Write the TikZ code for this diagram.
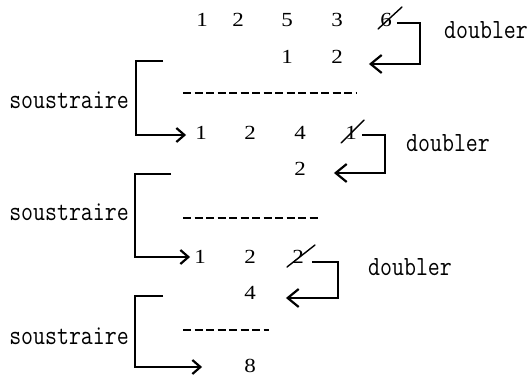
\documentclass[tikz,border=0pt]{standalone}
\usepackage{fontspec}
\newfontfamily\digitface{Liberation Serif}
\usetikzlibrary{arrows.meta}
% horizontally stretched digits and condensed typewriter words
\newcommand\dg[1]{\scalebox{1.15}[1]{#1}}
\newcommand\typed[1]{\scalebox{0.835}[1]{#1}}
\begin{document}
\begin{tikzpicture}[x=1pt,y=-1pt,
  num/.style={inner sep=0pt, font=\digitface\fontsize{20}{20}\selectfont},
  word/.style={inner sep=0pt, font=\ttfamily\fontsize{27.8}{30}\selectfont},
  link/.style={line width=2.2pt, -{Straight Barb[length=11pt,width=18pt]}},
  bracket/.style={line width=2.2pt, -{Straight Barb[length=8pt,width=14pt]}},
  rule/.style={line width=2pt, dash pattern=on 8pt off 3.5pt},
  strike/.style={line width=1.4pt, line cap=round},
]
\useasboundingbox (0,0) rectangle (532,378);

% first number and its doubled last digit
\node[num] (a1) at (202,20) {\dg{1}};
\node[num] (a2) at (238,20) {\dg{2}};
\node[num] (a3) at (287,20) {\dg{5}};
\node[num] (a4) at (337,20) {\dg{3}};
\node[num] (a5) at (386,20) {\dg{6}};
\node[num] (b1) at (287,57) {\dg{1}};
\node[num] (b2) at (337,57) {\dg{2}};

% second step
\node[num] (c1) at (201,133) {\dg{1}};
\node[num] (c2) at (250,133) {\dg{2}};
\node[num] (c3) at (300,133) {\dg{4}};
\node[num] (c4) at (351,133) {\dg{1}};
\node[num] (d1) at (300,169) {\dg{2}};

% third step
\node[num] (e1) at (200,257) {\dg{1}};
\node[num] (e2) at (250,257) {\dg{2}};
\node[num] (e3) at (298,257) {\dg{2}};
\node[num] (f1) at (250,293) {\dg{4}};

% result
\node[num] (g1) at (250,366) {\dg{8}};

% crossed-out digits
\draw[strike] ([shift={(-8,9)}]a5.center) -- ([shift={(16,-13)}]a5.center);
\draw[strike] ([shift={(-10,10)}]c4.center) -- ([shift={(13,-13)}]c4.center);
\draw[strike] ([shift={(-11,10)}]e3.center) -- ([shift={(17,-12)}]e3.center);

% subtraction rules
\draw[rule] (183,93) -- (356,93);
\draw[rule] (183,218) -- (319,218);
\draw[rule] (183,330) -- (269,330);

% labels
\node[word, anchor=west] (w1) at (444,30.5) {\typed{doubler}};
\node[word, anchor=west] (w2) at (406,143.5) {\typed{doubler}};
\node[word, anchor=west] (w3) at (368,267.5) {\typed{doubler}};
\node[word, anchor=east] (s1) at (129,100.5) {\typed{soustraire}};
\node[word, anchor=east] (s2) at (129,212.5) {\typed{soustraire}};
\node[word, anchor=east] (s3) at (129,336.5) {\typed{soustraire}};

% doubling arrows
\draw[link] ([shift={(5,3)}]a5.east) -- ++(23,0) |- ([shift={(26,7)}]b2.east);
\draw[link] ([shift={(5,2)}]c4.east) -- ++(23,0) |- ([shift={(28,4)}]d1.east);
\draw[link] ([shift={(8,5)}]e3.east) -- ++(26,0) |- ([shift={(30,5)}]f1.east);

% subtraction brackets
\coordinate (k1) at (163,61);
\coordinate (k2) at (171,174);
\coordinate (k3) at (163,296);
\draw[bracket] (k1) -- ++(-27,0) |- ([shift={(-9,2)}]c1.west);
\draw[bracket] (k2) -- ++(-36,0) |- ([shift={(-4,0)}]e1.west);
\draw[bracket] (k3) -- ++(-28,0) |- ([shift={(-42,1)}]g1.west);
\end{tikzpicture}
\end{document}
